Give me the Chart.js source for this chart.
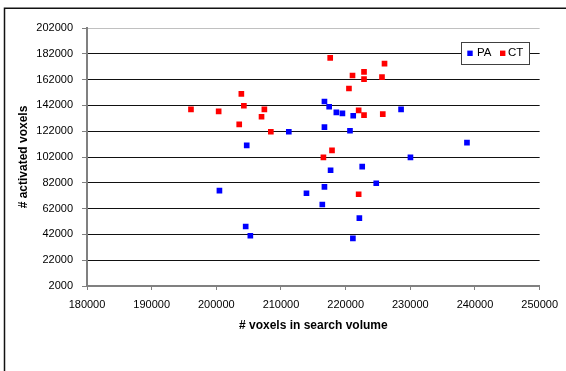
<!DOCTYPE html>
<html>
<head>
<meta charset="utf-8">
<script src="https://cdn.jsdelivr.net/npm/chart.js@4/dist/chart.umd.min.js"></script>
<style>
  html, body { margin: 0; padding: 0; background: #fff; }
  #wrap { width: 566px; height: 371px; position: relative; }
</style>
</head>
<body>
<div id="wrap"><canvas id="c" width="566" height="371"></canvas></div>
<script>
// ---- Data ----
const seriesNames = ["PA", "CT"];
const paX = [216720, 217450, 218560, 219500, 221170, 228570, 216720, 220670, 211210, 204700, 238760, 230020, 222560, 217670, 224730, 200480, 216720, 213940, 216390, 222120, 204540, 205260, 221120];
const paY = [145050, 140930, 136540, 135770, 133960, 138860, 125210, 122370, 121600, 111030, 113090, 101750, 94540, 91700, 81650, 75980, 78810, 73920, 65160, 54590, 48150, 40930, 38870];
const ctX = [196080, 200360, 203870, 204260, 203540, 207430, 206990, 208430, 217610, 221060, 222840, 222840, 226010, 225620, 220510, 222010, 222840, 225740, 217890, 216560, 222010];
const ctY = [138860, 137320, 150970, 141700, 127270, 138860, 133190, 121600, 178810, 165150, 167980, 162310, 174430, 163860, 155100, 138090, 134480, 135260, 107160, 101750, 73150];
const xTicks = [180000, 190000, 200000, 210000, 220000, 230000, 240000, 250000];
const yTicks = [2000, 22000, 42000, 62000, 82000, 102000, 122000, 142000, 162000, 182000, 202000];
const xTitle = "# voxels in search volume";
const yTitle = "# activated voxels";

const toPts = (xs, ys) => xs.map((x, i) => ({ x: x, y: ys[i] }));
const FONT = "'Liberation Sans', Arial, sans-serif";

const framePlugin = {
  id: 'frame',
  afterDraw(chart) {
    const ctx = chart.ctx;
    ctx.save();
    ctx.strokeStyle = '#111';
    ctx.lineWidth = 1.5;
    ctx.beginPath();
    ctx.moveTo(4.5, 371);
    ctx.lineTo(4.5, 8.2);
    ctx.lineTo(566, 8.2);
    ctx.stroke();
    ctx.restore();
  }
};

const legendPlugin = {
  id: 'boxLegend',
  afterDraw(chart) {
    const ctx = chart.ctx;
    const ds = chart.data.datasets;
    ctx.save();
    const x0 = 461.5, y0 = 42.5, w = 68, h = 22;
    ctx.fillStyle = '#fff';
    ctx.fillRect(x0, y0, w, h);
    ctx.strokeStyle = '#404040';
    ctx.lineWidth = 1;
    ctx.strokeRect(x0, y0, w, h);
    ctx.font = "11.5px " + FONT;
    ctx.textBaseline = 'middle';
    ctx.textAlign = 'left';
    const cy = 53.3;
    const items = [{ sx: 470, tx: 477 }, { sx: 502.7, tx: 508 }];
    ds.forEach((d, i) => {
      const it = items[i];
      ctx.fillStyle = d.backgroundColor;
      ctx.fillRect(it.sx - 2.7, cy - 2.7, 5.4, 5.4);
      ctx.fillStyle = '#000';
      ctx.fillText(d.label, it.tx, cy - 0.5);
    });
    ctx.restore();
  }
};

new Chart(document.getElementById('c'), {
  type: 'scatter',
  data: {
    datasets: [
      { label: seriesNames[0], data: toPts(paX, paY), backgroundColor: '#0000ff', borderColor: '#0000ff', borderWidth: 0, pointStyle: 'rect', pointRadius: 4, pointHoverRadius: 4 },
      { label: seriesNames[1], data: toPts(ctX, ctY), backgroundColor: '#ff0000', borderColor: '#ff0000', borderWidth: 0, pointStyle: 'rect', pointRadius: 4, pointHoverRadius: 4 }
    ]
  },
  options: {
    responsive: false,
    animation: false,
    devicePixelRatio: 1,
    layout: { padding: { left: 0, top: 28, right: 25, bottom: 35 } },
    plugins: {
      legend: { display: false },
      tooltip: { enabled: false }
    },
    scales: {
      x: {
        type: 'linear',
        min: xTicks[0],
        max: xTicks[xTicks.length - 1],
        afterBuildTicks(scale) { scale.ticks = xTicks.map(v => ({ value: v })); },
        afterFit(scale) { scale.height = 50; },
        ticks: {
          callback: v => String(v),
          color: '#000',
          font: { family: FONT, size: 11 },
          padding: 8,
          maxRotation: 0,
          autoSkip: false
        },
        grid: { drawOnChartArea: false, drawTicks: true, tickLength: 4, tickColor: '#808080', lineWidth: 1 },
        border: { display: true, color: '#808080', width: 2 },
        title: { display: true, text: xTitle, color: '#000', font: { family: FONT, size: 12, weight: 'bold' }, padding: { top: 0, bottom: 2.8 } }
      },
      y: {
        type: 'linear',
        min: yTicks[0],
        max: yTicks[yTicks.length - 1],
        afterBuildTicks(scale) { scale.ticks = yTicks.map(v => ({ value: v })); },
        afterFit(scale) { scale.width = 87; },
        ticks: {
          callback: v => String(v),
          color: '#000',
          font: { family: FONT, size: 11 },
          padding: 9,
          autoSkip: false
        },
        grid: {
          drawTicks: true,
          tickLength: 5,
          tickColor: '#808080',
          lineWidth: 1,
          color: c => (c.tick && c.tick.value === 202000) ? '#c0c0c0' : '#111'
        },
        border: { display: true, color: '#808080', width: 2 },
        title: { display: true, text: yTitle, color: '#000', font: { family: FONT, size: 12, weight: 'bold' }, padding: { top: 16.8, bottom: 0 } }
      }
    }
  },
  plugins: [framePlugin, legendPlugin]
});
</script>
</body>
</html>
